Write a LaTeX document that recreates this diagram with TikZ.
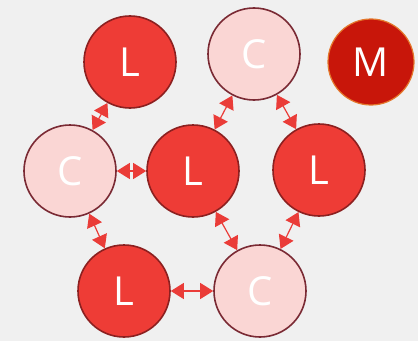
\documentclass[tikz,border=0pt]{standalone}
\usepackage{fontspec}
\setmainfont{Open Sans}
\usetikzlibrary{arrows.meta}
\definecolor{bgray}{RGB}{240,240,240}
\definecolor{lred}{RGB}{238,60,54}
\definecolor{lborder}{RGB}{140,32,32}
\definecolor{cpink}{RGB}{250,214,212}
\definecolor{cborder}{RGB}{122,42,52}
\definecolor{mred}{RGB}{200,22,10}
\definecolor{morange}{RGB}{228,120,44}
\definecolor{arrowred}{RGB}{234,60,56}
\tikzstyle{ball} =[circle, inner sep=0pt, minimum size=92pt, line width=1.6pt, text=white, font=\fontsize{40}{40}\selectfont]
\tikzstyle{lball} =[ball, draw=lborder, fill=lred]
\tikzstyle{cball} =[ball, draw=cborder, fill=cpink]
\tikzstyle{mball} =[ball, draw=morange, fill=mred, minimum size=86pt, line width=1.2pt]
\tikzstyle{link} =[draw=arrowred, line width=1.2pt, {Triangle[length=13pt,width=16pt]}-{Triangle[length=13pt,width=16pt]}]

\begin{document}
\begin{tikzpicture}[x=1pt, y=1pt]
		\fill[bgray] (0,0) rectangle (418,341);
		\useasboundingbox (0,0) rectangle (418,341);
		% top row
		\node[lball](lTop) at (130,279) {L};
		\node[cball](cTop) at (254,287) {C};
		\node[mball](mTop) at (371,279) {M};
		% middle row
		\node[cball](cMid) at (70,170) {C};
		\node[lball](lMid) at (193,170) {L};
		\node[lball](lRight) at (319,171) {L};
		% bottom row
		\node[lball](lBot) at (124,50) {L};
		\node[cball](cBot) at (260,50) {C};
		% links
		\draw[link] (lTop) -- (cMid);
		\draw[link] (cTop) -- (lMid);
		\draw[link] (cTop) -- (lRight);
		\draw[link] (cMid) -- (lMid);
		\draw[link] (cMid) -- (lBot);
		\draw[link] (lMid) -- (cBot);
		\draw[link] (lRight) -- (cBot);
		\draw[link] (lBot) -- (cBot);
	\end{tikzpicture}
\end{document}
